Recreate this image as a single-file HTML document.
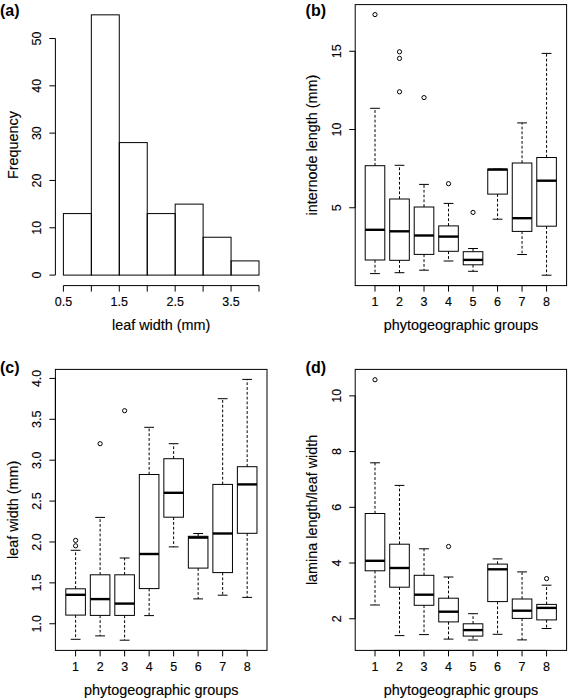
<!DOCTYPE html>
<html><head><meta charset="utf-8"><title>figure</title>
<style>
html,body{margin:0;padding:0;background:#fff;}
body{width:568px;height:698px;overflow:hidden;}
svg{display:block;}
svg text{font-family:"Liberation Sans",sans-serif;fill:#000;stroke:#000;stroke-width:0.15px;}
svg text[font-weight]{stroke:none;}
</style></head>
<body>
<svg width="568" height="698" viewBox="0 0 568 698">
<rect width="568" height="698" fill="#fff"/>
<rect x="63.40" y="213.58" width="27.95" height="61.52" fill="none" stroke="#000" stroke-width="1.0"/>
<rect x="91.34" y="14.84" width="27.94" height="260.26" fill="none" stroke="#000" stroke-width="1.0"/>
<rect x="119.29" y="142.60" width="27.95" height="132.50" fill="none" stroke="#000" stroke-width="1.0"/>
<rect x="147.24" y="213.58" width="27.94" height="61.52" fill="none" stroke="#000" stroke-width="1.0"/>
<rect x="175.18" y="204.12" width="27.94" height="70.98" fill="none" stroke="#000" stroke-width="1.0"/>
<rect x="203.12" y="237.24" width="27.95" height="37.86" fill="none" stroke="#000" stroke-width="1.0"/>
<rect x="231.07" y="260.90" width="27.94" height="14.20" fill="none" stroke="#000" stroke-width="1.0"/>
<line x1="55.40" y1="38.50" x2="55.40" y2="275.10" stroke="#000" stroke-width="1.0"/>
<line x1="49.40" y1="275.10" x2="55.40" y2="275.10" stroke="#000" stroke-width="1.0"/>
<text x="0" y="0" transform="translate(41.00,275.10) rotate(-90)" font-size="12.5" text-anchor="middle">0</text>
<line x1="49.40" y1="227.78" x2="55.40" y2="227.78" stroke="#000" stroke-width="1.0"/>
<text x="0" y="0" transform="translate(41.00,227.78) rotate(-90)" font-size="12.5" text-anchor="middle">10</text>
<line x1="49.40" y1="180.46" x2="55.40" y2="180.46" stroke="#000" stroke-width="1.0"/>
<text x="0" y="0" transform="translate(41.00,180.46) rotate(-90)" font-size="12.5" text-anchor="middle">20</text>
<line x1="49.40" y1="133.14" x2="55.40" y2="133.14" stroke="#000" stroke-width="1.0"/>
<text x="0" y="0" transform="translate(41.00,133.14) rotate(-90)" font-size="12.5" text-anchor="middle">30</text>
<line x1="49.40" y1="85.82" x2="55.40" y2="85.82" stroke="#000" stroke-width="1.0"/>
<text x="0" y="0" transform="translate(41.00,85.82) rotate(-90)" font-size="12.5" text-anchor="middle">40</text>
<line x1="49.40" y1="38.50" x2="55.40" y2="38.50" stroke="#000" stroke-width="1.0"/>
<text x="0" y="0" transform="translate(41.00,38.50) rotate(-90)" font-size="12.5" text-anchor="middle">50</text>
<line x1="63.40" y1="285.60" x2="259.01" y2="285.60" stroke="#000" stroke-width="1.0"/>
<line x1="63.40" y1="285.60" x2="63.40" y2="291.60" stroke="#000" stroke-width="1.0"/>
<text x="63.40" y="306.30" font-size="12.5" text-anchor="middle">0.5</text>
<line x1="91.34" y1="285.60" x2="91.34" y2="291.60" stroke="#000" stroke-width="1.0"/>
<line x1="119.29" y1="285.60" x2="119.29" y2="291.60" stroke="#000" stroke-width="1.0"/>
<text x="119.29" y="306.30" font-size="12.5" text-anchor="middle">1.5</text>
<line x1="147.24" y1="285.60" x2="147.24" y2="291.60" stroke="#000" stroke-width="1.0"/>
<line x1="175.18" y1="285.60" x2="175.18" y2="291.60" stroke="#000" stroke-width="1.0"/>
<text x="175.18" y="306.30" font-size="12.5" text-anchor="middle">2.5</text>
<line x1="203.12" y1="285.60" x2="203.12" y2="291.60" stroke="#000" stroke-width="1.0"/>
<line x1="231.07" y1="285.60" x2="231.07" y2="291.60" stroke="#000" stroke-width="1.0"/>
<text x="231.07" y="306.30" font-size="12.5" text-anchor="middle">3.5</text>
<line x1="259.01" y1="285.60" x2="259.01" y2="291.60" stroke="#000" stroke-width="1.0"/>
<text x="161.20" y="330.00" font-size="14.4" text-anchor="middle">leaf width (mm)</text>
<text x="0" y="0" transform="translate(17.50,145.10) rotate(-90)" font-size="14.4" text-anchor="middle">Frequency</text>
<line x1="375.00" y1="165.70" x2="375.00" y2="108.30" stroke="#000" stroke-width="1.0" stroke-dasharray="2.8 2"/>
<line x1="370.10" y1="108.30" x2="379.90" y2="108.30" stroke="#000" stroke-width="1.0"/>
<line x1="375.00" y1="260.00" x2="375.00" y2="273.60" stroke="#000" stroke-width="1.0" stroke-dasharray="2.8 2"/>
<line x1="370.10" y1="273.60" x2="379.90" y2="273.60" stroke="#000" stroke-width="1.0"/>
<rect x="365.20" y="165.70" width="19.60" height="94.30" fill="none" stroke="#000" stroke-width="1.0"/>
<line x1="365.20" y1="229.80" x2="384.80" y2="229.80" stroke="#000" stroke-width="2.4"/>
<line x1="399.51" y1="199.00" x2="399.51" y2="165.30" stroke="#000" stroke-width="1.0" stroke-dasharray="2.8 2"/>
<line x1="394.61" y1="165.30" x2="404.41" y2="165.30" stroke="#000" stroke-width="1.0"/>
<line x1="399.51" y1="260.30" x2="399.51" y2="272.70" stroke="#000" stroke-width="1.0" stroke-dasharray="2.8 2"/>
<line x1="394.61" y1="272.70" x2="404.41" y2="272.70" stroke="#000" stroke-width="1.0"/>
<rect x="389.71" y="199.00" width="19.60" height="61.30" fill="none" stroke="#000" stroke-width="1.0"/>
<line x1="389.71" y1="231.30" x2="409.31" y2="231.30" stroke="#000" stroke-width="2.4"/>
<line x1="424.02" y1="207.00" x2="424.02" y2="184.40" stroke="#000" stroke-width="1.0" stroke-dasharray="2.8 2"/>
<line x1="419.12" y1="184.40" x2="428.92" y2="184.40" stroke="#000" stroke-width="1.0"/>
<line x1="424.02" y1="254.40" x2="424.02" y2="270.20" stroke="#000" stroke-width="1.0" stroke-dasharray="2.8 2"/>
<line x1="419.12" y1="270.20" x2="428.92" y2="270.20" stroke="#000" stroke-width="1.0"/>
<rect x="414.22" y="207.00" width="19.60" height="47.40" fill="none" stroke="#000" stroke-width="1.0"/>
<line x1="414.22" y1="235.50" x2="433.82" y2="235.50" stroke="#000" stroke-width="2.4"/>
<line x1="448.53" y1="225.90" x2="448.53" y2="203.40" stroke="#000" stroke-width="1.0" stroke-dasharray="2.8 2"/>
<line x1="443.63" y1="203.40" x2="453.43" y2="203.40" stroke="#000" stroke-width="1.0"/>
<line x1="448.53" y1="251.30" x2="448.53" y2="261.00" stroke="#000" stroke-width="1.0" stroke-dasharray="2.8 2"/>
<line x1="443.63" y1="261.00" x2="453.43" y2="261.00" stroke="#000" stroke-width="1.0"/>
<rect x="438.73" y="225.90" width="19.60" height="25.40" fill="none" stroke="#000" stroke-width="1.0"/>
<line x1="438.73" y1="236.60" x2="458.33" y2="236.60" stroke="#000" stroke-width="2.4"/>
<line x1="473.04" y1="251.70" x2="473.04" y2="248.50" stroke="#000" stroke-width="1.0" stroke-dasharray="2.8 2"/>
<line x1="468.14" y1="248.50" x2="477.94" y2="248.50" stroke="#000" stroke-width="1.0"/>
<line x1="473.04" y1="264.80" x2="473.04" y2="271.30" stroke="#000" stroke-width="1.0" stroke-dasharray="2.8 2"/>
<line x1="468.14" y1="271.30" x2="477.94" y2="271.30" stroke="#000" stroke-width="1.0"/>
<rect x="463.24" y="251.70" width="19.60" height="13.10" fill="none" stroke="#000" stroke-width="1.0"/>
<line x1="463.24" y1="259.90" x2="482.84" y2="259.90" stroke="#000" stroke-width="2.4"/>
<line x1="492.65" y1="169.10" x2="502.45" y2="169.10" stroke="#000" stroke-width="1.0"/>
<line x1="497.55" y1="194.10" x2="497.55" y2="219.20" stroke="#000" stroke-width="1.0" stroke-dasharray="2.8 2"/>
<line x1="492.65" y1="219.20" x2="502.45" y2="219.20" stroke="#000" stroke-width="1.0"/>
<rect x="487.75" y="169.10" width="19.60" height="25.00" fill="none" stroke="#000" stroke-width="1.0"/>
<line x1="487.75" y1="169.60" x2="507.35" y2="169.60" stroke="#000" stroke-width="2.4"/>
<line x1="522.06" y1="163.00" x2="522.06" y2="122.90" stroke="#000" stroke-width="1.0" stroke-dasharray="2.8 2"/>
<line x1="517.16" y1="122.90" x2="526.96" y2="122.90" stroke="#000" stroke-width="1.0"/>
<line x1="522.06" y1="231.40" x2="522.06" y2="254.50" stroke="#000" stroke-width="1.0" stroke-dasharray="2.8 2"/>
<line x1="517.16" y1="254.50" x2="526.96" y2="254.50" stroke="#000" stroke-width="1.0"/>
<rect x="512.26" y="163.00" width="19.60" height="68.40" fill="none" stroke="#000" stroke-width="1.0"/>
<line x1="512.26" y1="218.20" x2="531.86" y2="218.20" stroke="#000" stroke-width="2.4"/>
<line x1="546.57" y1="157.50" x2="546.57" y2="53.40" stroke="#000" stroke-width="1.0" stroke-dasharray="2.8 2"/>
<line x1="541.67" y1="53.40" x2="551.47" y2="53.40" stroke="#000" stroke-width="1.0"/>
<line x1="546.57" y1="226.20" x2="546.57" y2="275.20" stroke="#000" stroke-width="1.0" stroke-dasharray="2.8 2"/>
<line x1="541.67" y1="275.20" x2="551.47" y2="275.20" stroke="#000" stroke-width="1.0"/>
<rect x="536.77" y="157.50" width="19.60" height="68.70" fill="none" stroke="#000" stroke-width="1.0"/>
<line x1="536.77" y1="180.70" x2="556.37" y2="180.70" stroke="#000" stroke-width="2.4"/>
<circle cx="375.00" cy="14.60" r="2.1" fill="none" stroke="#000" stroke-width="1.0"/>
<circle cx="399.51" cy="51.80" r="2.1" fill="none" stroke="#000" stroke-width="1.0"/>
<circle cx="399.51" cy="58.40" r="2.1" fill="none" stroke="#000" stroke-width="1.0"/>
<circle cx="399.51" cy="91.80" r="2.1" fill="none" stroke="#000" stroke-width="1.0"/>
<circle cx="424.02" cy="97.60" r="2.1" fill="none" stroke="#000" stroke-width="1.0"/>
<circle cx="448.53" cy="183.70" r="2.1" fill="none" stroke="#000" stroke-width="1.0"/>
<circle cx="473.04" cy="212.40" r="2.1" fill="none" stroke="#000" stroke-width="1.0"/>
<rect x="355.20" y="4.60" width="211.40" height="281.00" fill="none" stroke="#000" stroke-width="1.0"/>
<line x1="355.20" y1="51.25" x2="355.20" y2="207.75" stroke="#000" stroke-width="1.0"/>
<line x1="349.20" y1="207.75" x2="355.20" y2="207.75" stroke="#000" stroke-width="1.0"/>
<text x="0" y="0" transform="translate(340.80,207.75) rotate(-90)" font-size="12.5" text-anchor="middle">5</text>
<line x1="349.20" y1="129.50" x2="355.20" y2="129.50" stroke="#000" stroke-width="1.0"/>
<text x="0" y="0" transform="translate(340.80,129.50) rotate(-90)" font-size="12.5" text-anchor="middle">10</text>
<line x1="349.20" y1="51.25" x2="355.20" y2="51.25" stroke="#000" stroke-width="1.0"/>
<text x="0" y="0" transform="translate(340.80,51.25) rotate(-90)" font-size="12.5" text-anchor="middle">15</text>
<line x1="375.00" y1="285.60" x2="546.57" y2="285.60" stroke="#000" stroke-width="1.0"/>
<line x1="375.00" y1="285.60" x2="375.00" y2="291.60" stroke="#000" stroke-width="1.0"/>
<text x="375.00" y="306.30" font-size="12.5" text-anchor="middle">1</text>
<line x1="399.51" y1="285.60" x2="399.51" y2="291.60" stroke="#000" stroke-width="1.0"/>
<text x="399.51" y="306.30" font-size="12.5" text-anchor="middle">2</text>
<line x1="424.02" y1="285.60" x2="424.02" y2="291.60" stroke="#000" stroke-width="1.0"/>
<text x="424.02" y="306.30" font-size="12.5" text-anchor="middle">3</text>
<line x1="448.53" y1="285.60" x2="448.53" y2="291.60" stroke="#000" stroke-width="1.0"/>
<text x="448.53" y="306.30" font-size="12.5" text-anchor="middle">4</text>
<line x1="473.04" y1="285.60" x2="473.04" y2="291.60" stroke="#000" stroke-width="1.0"/>
<text x="473.04" y="306.30" font-size="12.5" text-anchor="middle">5</text>
<line x1="497.55" y1="285.60" x2="497.55" y2="291.60" stroke="#000" stroke-width="1.0"/>
<text x="497.55" y="306.30" font-size="12.5" text-anchor="middle">6</text>
<line x1="522.06" y1="285.60" x2="522.06" y2="291.60" stroke="#000" stroke-width="1.0"/>
<text x="522.06" y="306.30" font-size="12.5" text-anchor="middle">7</text>
<line x1="546.57" y1="285.60" x2="546.57" y2="291.60" stroke="#000" stroke-width="1.0"/>
<text x="546.57" y="306.30" font-size="12.5" text-anchor="middle">8</text>
<text x="460.90" y="330.00" font-size="14.4" text-anchor="middle">phytogeographic groups</text>
<text x="0" y="0" transform="translate(317.30,145.10) rotate(-90)" font-size="14.4" text-anchor="middle">internode length (mm)</text>
<line x1="75.60" y1="588.80" x2="75.60" y2="550.30" stroke="#000" stroke-width="1.0" stroke-dasharray="2.8 2"/>
<line x1="70.70" y1="550.30" x2="80.50" y2="550.30" stroke="#000" stroke-width="1.0"/>
<line x1="75.60" y1="615.10" x2="75.60" y2="639.30" stroke="#000" stroke-width="1.0" stroke-dasharray="2.8 2"/>
<line x1="70.70" y1="639.30" x2="80.50" y2="639.30" stroke="#000" stroke-width="1.0"/>
<rect x="65.80" y="588.80" width="19.60" height="26.30" fill="none" stroke="#000" stroke-width="1.0"/>
<line x1="65.80" y1="594.80" x2="85.40" y2="594.80" stroke="#000" stroke-width="2.4"/>
<line x1="100.11" y1="574.80" x2="100.11" y2="517.40" stroke="#000" stroke-width="1.0" stroke-dasharray="2.8 2"/>
<line x1="95.21" y1="517.40" x2="105.01" y2="517.40" stroke="#000" stroke-width="1.0"/>
<line x1="100.11" y1="615.40" x2="100.11" y2="635.90" stroke="#000" stroke-width="1.0" stroke-dasharray="2.8 2"/>
<line x1="95.21" y1="635.90" x2="105.01" y2="635.90" stroke="#000" stroke-width="1.0"/>
<rect x="90.31" y="574.80" width="19.60" height="40.60" fill="none" stroke="#000" stroke-width="1.0"/>
<line x1="90.31" y1="599.10" x2="109.91" y2="599.10" stroke="#000" stroke-width="2.4"/>
<line x1="124.62" y1="574.80" x2="124.62" y2="558.00" stroke="#000" stroke-width="1.0" stroke-dasharray="2.8 2"/>
<line x1="119.72" y1="558.00" x2="129.52" y2="558.00" stroke="#000" stroke-width="1.0"/>
<line x1="124.62" y1="615.40" x2="124.62" y2="640.20" stroke="#000" stroke-width="1.0" stroke-dasharray="2.8 2"/>
<line x1="119.72" y1="640.20" x2="129.52" y2="640.20" stroke="#000" stroke-width="1.0"/>
<rect x="114.82" y="574.80" width="19.60" height="40.60" fill="none" stroke="#000" stroke-width="1.0"/>
<line x1="114.82" y1="603.60" x2="134.42" y2="603.60" stroke="#000" stroke-width="2.4"/>
<line x1="149.13" y1="474.50" x2="149.13" y2="427.30" stroke="#000" stroke-width="1.0" stroke-dasharray="2.8 2"/>
<line x1="144.23" y1="427.30" x2="154.03" y2="427.30" stroke="#000" stroke-width="1.0"/>
<line x1="149.13" y1="588.60" x2="149.13" y2="615.60" stroke="#000" stroke-width="1.0" stroke-dasharray="2.8 2"/>
<line x1="144.23" y1="615.60" x2="154.03" y2="615.60" stroke="#000" stroke-width="1.0"/>
<rect x="139.33" y="474.50" width="19.60" height="114.10" fill="none" stroke="#000" stroke-width="1.0"/>
<line x1="139.33" y1="554.00" x2="158.93" y2="554.00" stroke="#000" stroke-width="2.4"/>
<line x1="173.64" y1="458.70" x2="173.64" y2="443.70" stroke="#000" stroke-width="1.0" stroke-dasharray="2.8 2"/>
<line x1="168.74" y1="443.70" x2="178.54" y2="443.70" stroke="#000" stroke-width="1.0"/>
<line x1="173.64" y1="517.20" x2="173.64" y2="546.90" stroke="#000" stroke-width="1.0" stroke-dasharray="2.8 2"/>
<line x1="168.74" y1="546.90" x2="178.54" y2="546.90" stroke="#000" stroke-width="1.0"/>
<rect x="163.84" y="458.70" width="19.60" height="58.50" fill="none" stroke="#000" stroke-width="1.0"/>
<line x1="163.84" y1="492.80" x2="183.44" y2="492.80" stroke="#000" stroke-width="2.4"/>
<line x1="198.15" y1="536.30" x2="198.15" y2="533.50" stroke="#000" stroke-width="1.0" stroke-dasharray="2.8 2"/>
<line x1="193.25" y1="533.50" x2="203.05" y2="533.50" stroke="#000" stroke-width="1.0"/>
<line x1="198.15" y1="568.10" x2="198.15" y2="598.90" stroke="#000" stroke-width="1.0" stroke-dasharray="2.8 2"/>
<line x1="193.25" y1="598.90" x2="203.05" y2="598.90" stroke="#000" stroke-width="1.0"/>
<rect x="188.35" y="536.30" width="19.60" height="31.80" fill="none" stroke="#000" stroke-width="1.0"/>
<line x1="188.35" y1="537.60" x2="207.95" y2="537.60" stroke="#000" stroke-width="2.4"/>
<line x1="222.66" y1="484.40" x2="222.66" y2="398.70" stroke="#000" stroke-width="1.0" stroke-dasharray="2.8 2"/>
<line x1="217.76" y1="398.70" x2="227.56" y2="398.70" stroke="#000" stroke-width="1.0"/>
<line x1="222.66" y1="572.60" x2="222.66" y2="595.20" stroke="#000" stroke-width="1.0" stroke-dasharray="2.8 2"/>
<line x1="217.76" y1="595.20" x2="227.56" y2="595.20" stroke="#000" stroke-width="1.0"/>
<rect x="212.86" y="484.40" width="19.60" height="88.20" fill="none" stroke="#000" stroke-width="1.0"/>
<line x1="212.86" y1="533.50" x2="232.46" y2="533.50" stroke="#000" stroke-width="2.4"/>
<line x1="247.17" y1="466.70" x2="247.17" y2="379.40" stroke="#000" stroke-width="1.0" stroke-dasharray="2.8 2"/>
<line x1="242.27" y1="379.40" x2="252.07" y2="379.40" stroke="#000" stroke-width="1.0"/>
<line x1="247.17" y1="533.30" x2="247.17" y2="597.40" stroke="#000" stroke-width="1.0" stroke-dasharray="2.8 2"/>
<line x1="242.27" y1="597.40" x2="252.07" y2="597.40" stroke="#000" stroke-width="1.0"/>
<rect x="237.37" y="466.70" width="19.60" height="66.60" fill="none" stroke="#000" stroke-width="1.0"/>
<line x1="237.37" y1="484.40" x2="256.97" y2="484.40" stroke="#000" stroke-width="2.4"/>
<circle cx="75.60" cy="540.40" r="2.1" fill="none" stroke="#000" stroke-width="1.0"/>
<circle cx="75.60" cy="545.80" r="2.1" fill="none" stroke="#000" stroke-width="1.0"/>
<circle cx="100.11" cy="443.70" r="2.1" fill="none" stroke="#000" stroke-width="1.0"/>
<circle cx="124.62" cy="410.70" r="2.1" fill="none" stroke="#000" stroke-width="1.0"/>
<rect x="55.40" y="369.40" width="211.60" height="281.00" fill="none" stroke="#000" stroke-width="1.0"/>
<line x1="55.40" y1="378.41" x2="55.40" y2="623.75" stroke="#000" stroke-width="1.0"/>
<line x1="49.40" y1="623.75" x2="55.40" y2="623.75" stroke="#000" stroke-width="1.0"/>
<text x="0" y="0" transform="translate(41.00,623.75) rotate(-90)" font-size="12.5" text-anchor="middle">1.0</text>
<line x1="49.40" y1="582.86" x2="55.40" y2="582.86" stroke="#000" stroke-width="1.0"/>
<text x="0" y="0" transform="translate(41.00,582.86) rotate(-90)" font-size="12.5" text-anchor="middle">1.5</text>
<line x1="49.40" y1="541.97" x2="55.40" y2="541.97" stroke="#000" stroke-width="1.0"/>
<text x="0" y="0" transform="translate(41.00,541.97) rotate(-90)" font-size="12.5" text-anchor="middle">2.0</text>
<line x1="49.40" y1="501.08" x2="55.40" y2="501.08" stroke="#000" stroke-width="1.0"/>
<text x="0" y="0" transform="translate(41.00,501.08) rotate(-90)" font-size="12.5" text-anchor="middle">2.5</text>
<line x1="49.40" y1="460.19" x2="55.40" y2="460.19" stroke="#000" stroke-width="1.0"/>
<text x="0" y="0" transform="translate(41.00,460.19) rotate(-90)" font-size="12.5" text-anchor="middle">3.0</text>
<line x1="49.40" y1="419.30" x2="55.40" y2="419.30" stroke="#000" stroke-width="1.0"/>
<text x="0" y="0" transform="translate(41.00,419.30) rotate(-90)" font-size="12.5" text-anchor="middle">3.5</text>
<line x1="49.40" y1="378.41" x2="55.40" y2="378.41" stroke="#000" stroke-width="1.0"/>
<text x="0" y="0" transform="translate(41.00,378.41) rotate(-90)" font-size="12.5" text-anchor="middle">4.0</text>
<line x1="75.60" y1="650.40" x2="247.17" y2="650.40" stroke="#000" stroke-width="1.0"/>
<line x1="75.60" y1="650.40" x2="75.60" y2="656.40" stroke="#000" stroke-width="1.0"/>
<text x="75.60" y="671.10" font-size="12.5" text-anchor="middle">1</text>
<line x1="100.11" y1="650.40" x2="100.11" y2="656.40" stroke="#000" stroke-width="1.0"/>
<text x="100.11" y="671.10" font-size="12.5" text-anchor="middle">2</text>
<line x1="124.62" y1="650.40" x2="124.62" y2="656.40" stroke="#000" stroke-width="1.0"/>
<text x="124.62" y="671.10" font-size="12.5" text-anchor="middle">3</text>
<line x1="149.13" y1="650.40" x2="149.13" y2="656.40" stroke="#000" stroke-width="1.0"/>
<text x="149.13" y="671.10" font-size="12.5" text-anchor="middle">4</text>
<line x1="173.64" y1="650.40" x2="173.64" y2="656.40" stroke="#000" stroke-width="1.0"/>
<text x="173.64" y="671.10" font-size="12.5" text-anchor="middle">5</text>
<line x1="198.15" y1="650.40" x2="198.15" y2="656.40" stroke="#000" stroke-width="1.0"/>
<text x="198.15" y="671.10" font-size="12.5" text-anchor="middle">6</text>
<line x1="222.66" y1="650.40" x2="222.66" y2="656.40" stroke="#000" stroke-width="1.0"/>
<text x="222.66" y="671.10" font-size="12.5" text-anchor="middle">7</text>
<line x1="247.17" y1="650.40" x2="247.17" y2="656.40" stroke="#000" stroke-width="1.0"/>
<text x="247.17" y="671.10" font-size="12.5" text-anchor="middle">8</text>
<text x="161.20" y="694.80" font-size="14.4" text-anchor="middle">phytogeographic groups</text>
<text x="0" y="0" transform="translate(17.50,509.90) rotate(-90)" font-size="14.4" text-anchor="middle">leaf width (mm)</text>
<line x1="375.00" y1="513.50" x2="375.00" y2="462.80" stroke="#000" stroke-width="1.0" stroke-dasharray="2.8 2"/>
<line x1="370.10" y1="462.80" x2="379.90" y2="462.80" stroke="#000" stroke-width="1.0"/>
<line x1="375.00" y1="570.80" x2="375.00" y2="605.00" stroke="#000" stroke-width="1.0" stroke-dasharray="2.8 2"/>
<line x1="370.10" y1="605.00" x2="379.90" y2="605.00" stroke="#000" stroke-width="1.0"/>
<rect x="365.20" y="513.50" width="19.60" height="57.30" fill="none" stroke="#000" stroke-width="1.0"/>
<line x1="365.20" y1="560.80" x2="384.80" y2="560.80" stroke="#000" stroke-width="2.4"/>
<line x1="399.51" y1="544.20" x2="399.51" y2="485.40" stroke="#000" stroke-width="1.0" stroke-dasharray="2.8 2"/>
<line x1="394.61" y1="485.40" x2="404.41" y2="485.40" stroke="#000" stroke-width="1.0"/>
<line x1="399.51" y1="587.20" x2="399.51" y2="635.60" stroke="#000" stroke-width="1.0" stroke-dasharray="2.8 2"/>
<line x1="394.61" y1="635.60" x2="404.41" y2="635.60" stroke="#000" stroke-width="1.0"/>
<rect x="389.71" y="544.20" width="19.60" height="43.00" fill="none" stroke="#000" stroke-width="1.0"/>
<line x1="389.71" y1="568.00" x2="409.31" y2="568.00" stroke="#000" stroke-width="2.4"/>
<line x1="424.02" y1="575.30" x2="424.02" y2="548.80" stroke="#000" stroke-width="1.0" stroke-dasharray="2.8 2"/>
<line x1="419.12" y1="548.80" x2="428.92" y2="548.80" stroke="#000" stroke-width="1.0"/>
<line x1="424.02" y1="605.30" x2="424.02" y2="634.60" stroke="#000" stroke-width="1.0" stroke-dasharray="2.8 2"/>
<line x1="419.12" y1="634.60" x2="428.92" y2="634.60" stroke="#000" stroke-width="1.0"/>
<rect x="414.22" y="575.30" width="19.60" height="30.00" fill="none" stroke="#000" stroke-width="1.0"/>
<line x1="414.22" y1="594.70" x2="433.82" y2="594.70" stroke="#000" stroke-width="2.4"/>
<line x1="448.53" y1="598.20" x2="448.53" y2="577.00" stroke="#000" stroke-width="1.0" stroke-dasharray="2.8 2"/>
<line x1="443.63" y1="577.00" x2="453.43" y2="577.00" stroke="#000" stroke-width="1.0"/>
<line x1="448.53" y1="621.90" x2="448.53" y2="639.10" stroke="#000" stroke-width="1.0" stroke-dasharray="2.8 2"/>
<line x1="443.63" y1="639.10" x2="453.43" y2="639.10" stroke="#000" stroke-width="1.0"/>
<rect x="438.73" y="598.20" width="19.60" height="23.70" fill="none" stroke="#000" stroke-width="1.0"/>
<line x1="438.73" y1="611.70" x2="458.33" y2="611.70" stroke="#000" stroke-width="2.4"/>
<line x1="473.04" y1="623.80" x2="473.04" y2="613.70" stroke="#000" stroke-width="1.0" stroke-dasharray="2.8 2"/>
<line x1="468.14" y1="613.70" x2="477.94" y2="613.70" stroke="#000" stroke-width="1.0"/>
<line x1="473.04" y1="636.10" x2="473.04" y2="640.00" stroke="#000" stroke-width="1.0" stroke-dasharray="2.8 2"/>
<line x1="468.14" y1="640.00" x2="477.94" y2="640.00" stroke="#000" stroke-width="1.0"/>
<rect x="463.24" y="623.80" width="19.60" height="12.30" fill="none" stroke="#000" stroke-width="1.0"/>
<line x1="463.24" y1="630.10" x2="482.84" y2="630.10" stroke="#000" stroke-width="2.4"/>
<line x1="497.55" y1="564.10" x2="497.55" y2="558.90" stroke="#000" stroke-width="1.0" stroke-dasharray="2.8 2"/>
<line x1="492.65" y1="558.90" x2="502.45" y2="558.90" stroke="#000" stroke-width="1.0"/>
<line x1="497.55" y1="601.60" x2="497.55" y2="634.30" stroke="#000" stroke-width="1.0" stroke-dasharray="2.8 2"/>
<line x1="492.65" y1="634.30" x2="502.45" y2="634.30" stroke="#000" stroke-width="1.0"/>
<rect x="487.75" y="564.10" width="19.60" height="37.50" fill="none" stroke="#000" stroke-width="1.0"/>
<line x1="487.75" y1="569.30" x2="507.35" y2="569.30" stroke="#000" stroke-width="2.4"/>
<line x1="522.06" y1="599.00" x2="522.06" y2="571.90" stroke="#000" stroke-width="1.0" stroke-dasharray="2.8 2"/>
<line x1="517.16" y1="571.90" x2="526.96" y2="571.90" stroke="#000" stroke-width="1.0"/>
<line x1="522.06" y1="618.40" x2="522.06" y2="639.90" stroke="#000" stroke-width="1.0" stroke-dasharray="2.8 2"/>
<line x1="517.16" y1="639.90" x2="526.96" y2="639.90" stroke="#000" stroke-width="1.0"/>
<rect x="512.26" y="599.00" width="19.60" height="19.40" fill="none" stroke="#000" stroke-width="1.0"/>
<line x1="512.26" y1="610.70" x2="531.86" y2="610.70" stroke="#000" stroke-width="2.4"/>
<line x1="546.57" y1="604.40" x2="546.57" y2="585.20" stroke="#000" stroke-width="1.0" stroke-dasharray="2.8 2"/>
<line x1="541.67" y1="585.20" x2="551.47" y2="585.20" stroke="#000" stroke-width="1.0"/>
<line x1="546.57" y1="619.90" x2="546.57" y2="628.50" stroke="#000" stroke-width="1.0" stroke-dasharray="2.8 2"/>
<line x1="541.67" y1="628.50" x2="551.47" y2="628.50" stroke="#000" stroke-width="1.0"/>
<rect x="536.77" y="604.40" width="19.60" height="15.50" fill="none" stroke="#000" stroke-width="1.0"/>
<line x1="536.77" y1="607.90" x2="556.37" y2="607.90" stroke="#000" stroke-width="2.4"/>
<circle cx="375.00" cy="379.75" r="2.1" fill="none" stroke="#000" stroke-width="1.0"/>
<circle cx="448.53" cy="546.50" r="2.1" fill="none" stroke="#000" stroke-width="1.0"/>
<circle cx="546.57" cy="578.60" r="2.1" fill="none" stroke="#000" stroke-width="1.0"/>
<rect x="355.20" y="369.40" width="211.40" height="281.00" fill="none" stroke="#000" stroke-width="1.0"/>
<line x1="355.20" y1="395.87" x2="355.20" y2="618.75" stroke="#000" stroke-width="1.0"/>
<line x1="349.20" y1="618.75" x2="355.20" y2="618.75" stroke="#000" stroke-width="1.0"/>
<text x="0" y="0" transform="translate(340.80,618.75) rotate(-90)" font-size="12.5" text-anchor="middle">2</text>
<line x1="349.20" y1="563.03" x2="355.20" y2="563.03" stroke="#000" stroke-width="1.0"/>
<text x="0" y="0" transform="translate(340.80,563.03) rotate(-90)" font-size="12.5" text-anchor="middle">4</text>
<line x1="349.20" y1="507.31" x2="355.20" y2="507.31" stroke="#000" stroke-width="1.0"/>
<text x="0" y="0" transform="translate(340.80,507.31) rotate(-90)" font-size="12.5" text-anchor="middle">6</text>
<line x1="349.20" y1="451.59" x2="355.20" y2="451.59" stroke="#000" stroke-width="1.0"/>
<text x="0" y="0" transform="translate(340.80,451.59) rotate(-90)" font-size="12.5" text-anchor="middle">8</text>
<line x1="349.20" y1="395.87" x2="355.20" y2="395.87" stroke="#000" stroke-width="1.0"/>
<text x="0" y="0" transform="translate(340.80,395.87) rotate(-90)" font-size="12.5" text-anchor="middle">10</text>
<line x1="375.00" y1="650.40" x2="546.57" y2="650.40" stroke="#000" stroke-width="1.0"/>
<line x1="375.00" y1="650.40" x2="375.00" y2="656.40" stroke="#000" stroke-width="1.0"/>
<text x="375.00" y="671.10" font-size="12.5" text-anchor="middle">1</text>
<line x1="399.51" y1="650.40" x2="399.51" y2="656.40" stroke="#000" stroke-width="1.0"/>
<text x="399.51" y="671.10" font-size="12.5" text-anchor="middle">2</text>
<line x1="424.02" y1="650.40" x2="424.02" y2="656.40" stroke="#000" stroke-width="1.0"/>
<text x="424.02" y="671.10" font-size="12.5" text-anchor="middle">3</text>
<line x1="448.53" y1="650.40" x2="448.53" y2="656.40" stroke="#000" stroke-width="1.0"/>
<text x="448.53" y="671.10" font-size="12.5" text-anchor="middle">4</text>
<line x1="473.04" y1="650.40" x2="473.04" y2="656.40" stroke="#000" stroke-width="1.0"/>
<text x="473.04" y="671.10" font-size="12.5" text-anchor="middle">5</text>
<line x1="497.55" y1="650.40" x2="497.55" y2="656.40" stroke="#000" stroke-width="1.0"/>
<text x="497.55" y="671.10" font-size="12.5" text-anchor="middle">6</text>
<line x1="522.06" y1="650.40" x2="522.06" y2="656.40" stroke="#000" stroke-width="1.0"/>
<text x="522.06" y="671.10" font-size="12.5" text-anchor="middle">7</text>
<line x1="546.57" y1="650.40" x2="546.57" y2="656.40" stroke="#000" stroke-width="1.0"/>
<text x="546.57" y="671.10" font-size="12.5" text-anchor="middle">8</text>
<text x="460.90" y="694.80" font-size="14.4" text-anchor="middle">phytogeographic groups</text>
<text x="0" y="0" transform="translate(317.30,509.90) rotate(-90)" font-size="14.4" text-anchor="middle">lamina length/leaf width</text>
<text x="0.00" y="16.30" font-size="16" text-anchor="start" font-weight="bold">(a)</text>
<text x="305.60" y="16.30" font-size="16" text-anchor="start" font-weight="bold">(b)</text>
<text x="0.00" y="373.40" font-size="16" text-anchor="start" font-weight="bold">(c)</text>
<text x="305.60" y="373.40" font-size="16" text-anchor="start" font-weight="bold">(d)</text>
</svg>
</body></html>
